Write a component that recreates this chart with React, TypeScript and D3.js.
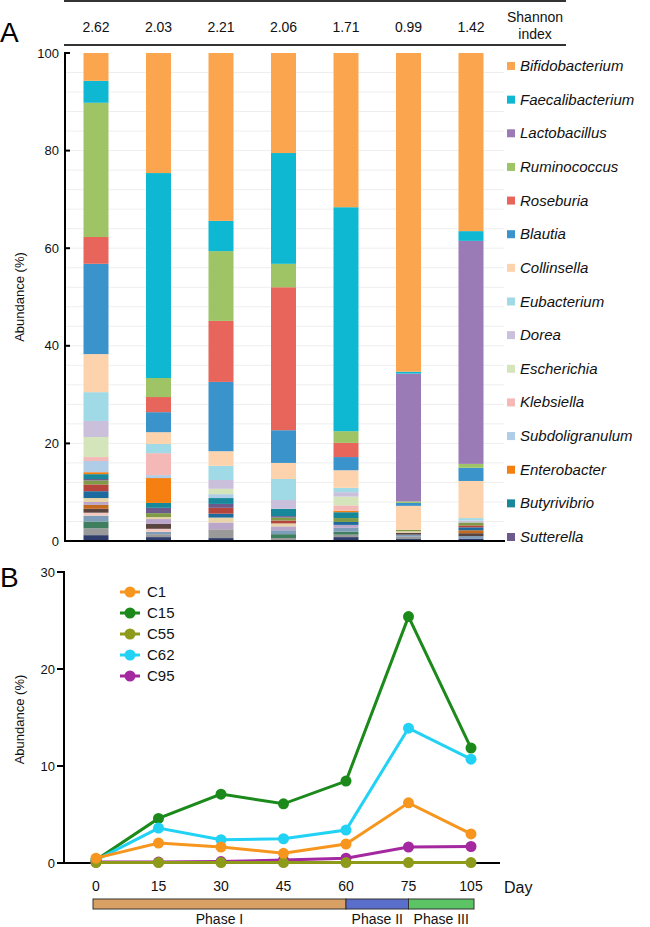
import React from "react";
import * as d3 from "d3";

const samples = ["S1", "S2", "S3", "S4", "S5", "S6", "S7"];
const shannonIndex = ["2.62", "2.03", "2.21", "2.06", "1.71", "0.99", "1.42"];

const genera = [
  "Bifidobacterium", "Faecalibacterium", "Lactobacillus", "Ruminococcus", "Roseburia",
  "Blautia", "Collinsella", "Eubacterium", "Dorea", "Escherichia", "Klebsiella",
  "Subdoligranulum", "Enterobacter", "Butyrivibrio", "Sutterella",
];
const genusColors = [
  "#FBA64F", "#0EB8D2", "#9A7BB6", "#9EC466", "#E8655C", "#3A93CB", "#FDD3AE",
  "#A0DAE7", "#CAC0DC", "#D4E5BB", "#F4B8B6", "#AFCDE7", "#F57F10", "#16889A", "#6C5A8C",
];
const otherGenera = ["o1", "o2", "o3", "o4", "o5", "o6", "o7", "o8", "o9", "o10", "o11", "o12"];
const otherColors = [
  "#7F9B45", "#B5453C", "#1D6A9E", "#E9D4A8", "#B9A6C8", "#C46A1F",
  "#5A4440", "#F4C9C0", "#7E9DB8", "#3F7F5F", "#9A9A9A", "#2E3D6B",
];

const bifidobacterium = [5.7, 24.6, 34.4, 20.5, 31.6, 65.3, 36.5];
const faecalibacterium = [4.5, 42.0, 6.2, 22.7, 45.9, 0.4, 2.0];
const lactobacillus = [0, 0, 0, 0, 0, 26.2, 45.7];
const ruminococcus = [27.5, 3.9, 14.3, 4.8, 2.4, 0.3, 0.8];
const roseburia = [5.5, 3.1, 12.5, 29.3, 2.9, 0, 0];
const blautia = [18.5, 4.1, 14.2, 6.7, 2.7, 0.6, 2.7];
const collinsella = [7.8, 2.4, 3.0, 3.3, 3.6, 4.9, 7.6];
const eubacterium = [5.9, 1.9, 2.9, 4.3, 0.9, 0, 0.5];
const dorea = [3.3, 0, 1.8, 1.8, 0.9, 0, 0.4];
const escherichia = [4.1, 0, 1.1, 0, 1.8, 0, 0];
const klebsiella = [0.8, 4.5, 0, 0, 1.1, 0, 0];
const subdoligranulum = [2.3, 0.6, 0.8, 0, 0, 0, 0];
const enterobacter = [0.4, 5.1, 0, 0, 0.3, 0, 0];
const butyrivibrio = [1.0, 1.0, 1.2, 1.5, 1.2, 0, 0];
const sutterella = [0.3, 1.1, 0.8, 0.3, 0, 0, 0];
const other1 = [0.8, 0.8, 0, 0.6, 0.8, 0.3, 0.6];
const other2 = [1.4, 0, 1.2, 0.6, 0, 0, 0.4];
const other3 = [1.4, 0, 0.8, 0, 0.6, 0, 0.6];
const other4 = [0.8, 0.4, 1.0, 0.6, 0, 0.3, 0];
const other5 = [0.6, 1.0, 1.4, 0.8, 0.6, 0, 0];
const other6 = [0.8, 0, 0, 0, 0, 0, 0.6];
const other7 = [0.8, 1.0, 0, 0, 0, 0.4, 0.6];
const other8 = [0.6, 0.6, 0, 0, 0, 0, 0];
const other9 = [1.2, 0.5, 0, 0.8, 0.8, 0.4, 0.5];
const other10 = [1.4, 0, 0, 0.8, 0.6, 0, 0];
const other11 = [1.4, 0.6, 1.8, 0.6, 0.5, 0.5, 0];
const other12 = [1.2, 0.8, 0.6, 0, 0.8, 0.4, 0.5];

const genusValues = [
  bifidobacterium, faecalibacterium, lactobacillus, ruminococcus, roseburia, blautia,
  collinsella, eubacterium, dorea, escherichia, klebsiella, subdoligranulum,
  enterobacter, butyrivibrio, sutterella,
];
const otherValues = [
  other1, other2, other3, other4, other5, other6, other7, other8, other9, other10, other11, other12,
];

const days = ["0", "15", "30", "45", "60", "75", "105"];
const seriesNames = ["C1", "C15", "C55", "C62", "C95"];
const seriesColors = ["#F7961E", "#1B8A1B", "#8E9A1A", "#22D2F5", "#A4289F"];
const c1 = [0.5, 2.06, 1.65, 1.0, 1.96, 6.2, 3.0];
const c15 = [0.3, 4.6, 7.1, 6.1, 8.45, 25.4, 11.85];
const c55 = [0.05, 0.05, 0.05, 0.05, 0.05, 0.05, 0.05];
const c62 = [0.3, 3.6, 2.4, 2.5, 3.4, 13.9, 10.7];
const c95 = [0.1, 0.1, 0.15, 0.3, 0.5, 1.65, 1.7];
const seriesValues = [c1, c15, c55, c62, c95];
const drawOrder = [1, 3, 4, 2, 0];

const phases = ["Phase I", "Phase II", "Phase III"];
const phaseStart = ["0", "60", "75"];
const phaseEnd = ["60", "75", "105"];
const phaseColors = ["#D9A063", "#5A6ECB", "#5CC464"];

const yTicksA = [0, 20, 40, 60, 80, 100];
const gridA = d3.range(4, 100, 4);
const yTicksB = [0, 10, 20, 30];

const FONT = "'Liberation Sans', Arial, Helvetica, sans-serif";

export default function App() {
  const allKeys = [...genera, ...otherGenera];
  const allColors = [...genusColors, ...otherColors];
  const allValues = [...genusValues, ...otherValues];
  const colorOf = new Map(allKeys.map((k, i) => [k, allColors[i]]));

  const rows = samples.map((s, j) => {
    const r: any = { sample: s };
    allKeys.forEach((k, i) => (r[k] = allValues[i][j]));
    return r;
  });
  const stackKeys = allKeys.slice().reverse();
  const stacked = d3.stack().keys(stackKeys)(rows);

  const xA = d3.scalePoint<string>().domain(samples).range([96, 471]);
  const yA = d3.scaleLinear().domain([0, 100]).range([541, 53]);
  const barW = 25;

  const xB = d3.scalePoint<string>().domain(days).range([96, 471]);
  const yB = d3.scaleLinear().domain([0, 30]).range([863, 572]);
  const line = d3
    .line<number>()
    .x((_, i) => xB(days[i]) as number)
    .y((d) => yB(d));

  const legendY = d3.scaleLinear().domain([0, genera.length - 1]).range([66, 537]);

  return (
    <svg
      width={650}
      height={927}
      style={{ position: "absolute", left: 0, top: 0, background: "#fff" }}
      fontFamily={FONT}
    >
      {/* Panel A */}
      <text x={0} y={42} fontSize={28} fill="#000">A</text>
      <line x1={64} x2={566} y1={1} y2={1} stroke="#333" strokeWidth={2} />
      <line x1={64} x2={566} y1={45} y2={45} stroke="#333" strokeWidth={2} />
      {shannonIndex.map((v, i) => (
        <text key={v + i} x={xA(samples[i])} y={32} fontSize={14} textAnchor="middle" fill="#111">
          {v}
        </text>
      ))}
      <text x={535} y={22} fontSize={14} textAnchor="middle" fill="#111">Shannon</text>
      <text x={535} y={39} fontSize={14} textAnchor="middle" fill="#111">index</text>

      {gridA.map((g) => (
        <line key={g} x1={66} x2={504} y1={yA(g)} y2={yA(g)} stroke="#EEEEEE" strokeWidth={1} />
      ))}

      {stacked.map((layer) => (
        <g key={layer.key} fill={colorOf.get(layer.key)}>
          {layer.map((d, j) =>
            d[1] - d[0] > 0 ? (
              <rect
                key={j}
                x={(xA(samples[j]) as number) - barW / 2}
                y={yA(d[1])}
                width={barW}
                height={yA(d[0]) - yA(d[1])}
              />
            ) : null
          )}
        </g>
      ))}

      <line x1={65} x2={65} y1={52} y2={542} stroke="#000" strokeWidth={2} />
      <line x1={64} x2={505} y1={541} y2={541} stroke="#000" strokeWidth={2} />
      {yTicksA.map((t) => (
        <g key={t}>
          <line x1={64} x2={70} y1={yA(t)} y2={yA(t)} stroke="#000" strokeWidth={2} />
          <text x={59} y={yA(t) + 4.5} fontSize={13} textAnchor="end" fill="#111">{t}</text>
        </g>
      ))}
      <text
        transform={`translate(24,${(yA(0) + yA(100)) / 2}) rotate(-90)`}
        fontSize={13}
        textAnchor="middle"
        fill="#111"
      >
        Abundance (%)
      </text>

      {genera.map((g, i) => (
        <g key={g}>
          <rect x={507} y={legendY(i) - 4} width={8} height={8} fill={genusColors[i]} />
          <text x={520} y={legendY(i) + 5} fontSize={15} fontStyle="italic" fill="#111">{g}</text>
        </g>
      ))}

      {/* Panel B */}
      <text x={0} y={587} fontSize={28} fill="#000">B</text>
      <line x1={64} x2={64} y1={571} y2={864} stroke="#000" strokeWidth={2} />
      <line x1={57} x2={500} y1={863} y2={863} stroke="#000" strokeWidth={2} />
      {yTicksB.map((t) => (
        <g key={t}>
          <line x1={57} x2={64} y1={yB(t)} y2={yB(t)} stroke="#000" strokeWidth={2} />
          <text x={55} y={yB(t) + 4.5} fontSize={13} textAnchor="end" fill="#111">{t}</text>
        </g>
      ))}
      <text
        transform={`translate(24,${(yB(0) + yB(30)) / 2 + 2}) rotate(-90)`}
        fontSize={13}
        textAnchor="middle"
        fill="#111"
      >
        Abundance (%)
      </text>
      {days.map((d) => (
        <text key={d} x={xB(d)} y={891} fontSize={14} textAnchor="middle" fill="#111">{d}</text>
      ))}
      <text x={504} y={893} fontSize={16} fill="#111">Day</text>

      {drawOrder.map((si) => (
        <g key={seriesNames[si]}>
          <path d={line(seriesValues[si]) as string} fill="none" stroke={seriesColors[si]} strokeWidth={3} />
          {seriesValues[si].map((v, i) => (
            <circle key={i} cx={xB(days[i])} cy={yB(v)} r={5.5} fill={seriesColors[si]} />
          ))}
        </g>
      ))}

      {seriesNames.map((n, i) => (
        <g key={n} transform={`translate(0,${592 + i * 21})`}>
          <line x1={120} x2={140} y1={0} y2={0} stroke={seriesColors[i]} strokeWidth={3} />
          <circle cx={130} cy={0} r={5.5} fill={seriesColors[i]} />
          <text x={147} y={5} fontSize={15} fill="#111">{n}</text>
        </g>
      ))}

      {phases.map((p, i) => {
        const x0 = (xB(phaseStart[i]) as number) - (i === 0 ? 3 : 0);
        const x1 = (xB(phaseEnd[i]) as number) + (i === 2 ? 3 : 0);
        return (
          <g key={p}>
            <rect x={x0} y={899} width={x1 - x0} height={10} fill={phaseColors[i]} stroke="#333" strokeWidth={1} />
            <text x={(x0 + x1) / 2} y={924} fontSize={14} textAnchor="middle" fill="#111">{p}</text>
          </g>
        );
      })}
    </svg>
  );
}
